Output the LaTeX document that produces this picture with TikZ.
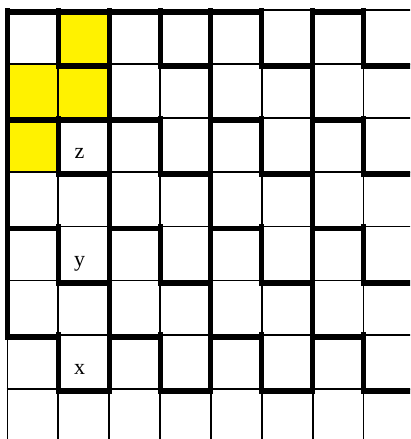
\documentclass[tikz,border=0pt]{standalone}
\usepackage{fontspec}
\setmainfont{Liberation Serif}
\begin{document}
\begin{tikzpicture}[x=1pt,y=-1pt,
  thinline/.style={line width=1.8pt},
  thickline/.style={line width=5pt,line cap=rect},
  cellfill/.style={fill=yellow},
  lab/.style={font=\fontsize{22}{24}\selectfont, inner sep=0pt, anchor=base}]
\useasboundingbox (0,0) rectangle (410,439);
\fill[white] (0,0) rectangle (410,439);
\begin{scope}
\clip (0,0) rectangle (410,439);
% yellow cells
\foreach \c/\r in {1/0,0/1,1/1,0/2}
  \fill[cellfill] ({7.5+50.85*\c},{10+54.1*\r}) rectangle ({7.5+50.85*(\c+1)},{10+54.1*(\r+1)});
% thin grid
\foreach \i in {0,...,7}
  \draw[thinline] ({7.5+50.85*\i},9.1) -- ({7.5+50.85*\i},445);
\foreach \j in {0,...,7}
  \draw[thinline] (6.6,{10+54.1*\j}) -- (415,{10+54.1*\j});
% thick vertical segments
\foreach \i/\a/\b in {0/0/6, 2/0/7, 4/0/7, 6/0/7,
  1/0/1, 1/2/3, 1/4/5, 1/6/7,
  3/0/1, 3/2/3, 3/4/5, 3/6/7,
  5/0/1, 5/2/3, 5/4/5, 5/6/7,
  7/0/1, 7/2/3, 7/4/5, 7/6/7}
  \draw[thickline] ({7.5+50.85*\i},{10+54.1*\a}) -- ({7.5+50.85*\i},{10+54.1*\b});
% thick horizontal segments
\foreach \j/\c in {0/0,0/1,0/2,0/3,0/4,0/6,
  1/1,1/3,1/5,1/7,
  2/0,2/1,2/2,2/4,2/6,
  3/1,3/3,3/5,3/7,
  4/0,4/2,4/4,4/6,
  5/1,5/3,5/5,5/7,
  6/0,6/2,6/4,6/6,
  7/1,7/3,7/5,7/7}
  \draw[thickline] ({7.5+50.85*\c},{12.5+54.1*\j}) -- ({7.5+50.85*(\c+1)},{12.5+54.1*\j});
\end{scope}
% labels
\node[lab] (z) at (79.5,158) {z};
\node[lab] (y) at (79.5,266) {y};
\node[lab] (x) at (79.5,374) {x};
\end{tikzpicture}
\end{document}
